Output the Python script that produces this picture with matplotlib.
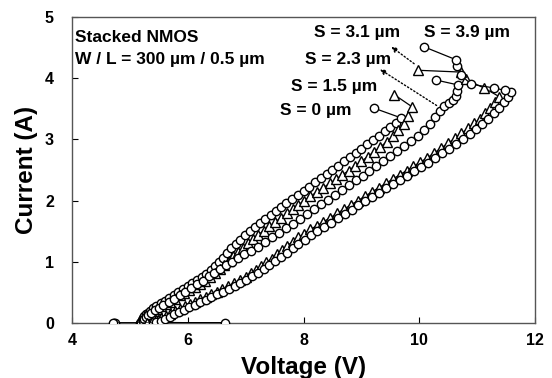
import matplotlib
matplotlib.use("Agg")
import matplotlib.pyplot as plt

plt.rcParams['font.family'] = ['Liberation Sans', 'DejaVu Sans']
plt.rcParams['font.weight'] = 'bold'

# S = 0 um (circles)
v_s0 = [4.72, 5.18, 5.19, 5.21, 5.23, 5.25, 5.28, 5.31, 5.35, 5.40, 5.46, 5.53, 5.60, 5.68, 5.76,
        5.84, 5.92, 6.00, 6.08, 6.16, 6.24, 6.32, 6.40, 6.47, 6.54, 6.61, 6.68, 6.75, 6.83, 6.91,
        6.99, 7.07, 7.16, 7.25, 7.34, 7.43, 7.52, 7.61, 7.70, 7.80, 7.90, 8.00, 8.10, 8.20, 8.30,
        8.40, 8.50, 8.60, 8.70, 8.80, 8.90, 9.00, 9.10, 9.20, 9.30, 9.40, 9.50, 9.60, 9.69, 9.22]
i_s0 = [0, 0, 0.02, 0.05, 0.08, 0.11, 0.14, 0.17, 0.20, 0.24, 0.28, 0.32, 0.36, 0.41, 0.46,
        0.51, 0.56, 0.60, 0.65, 0.70, 0.75, 0.80, 0.86, 0.93, 1.00, 1.07, 1.15, 1.22, 1.29, 1.36,
        1.43, 1.50, 1.57, 1.63, 1.70, 1.76, 1.83, 1.89, 1.96, 2.02, 2.09, 2.16, 2.23, 2.30, 2.37,
        2.43, 2.50, 2.57, 2.64, 2.71, 2.78, 2.85, 2.92, 2.99, 3.06, 3.13, 3.20, 3.27, 3.35, 3.51]

# S = 1.5 um (triangles)
v_s15 = [5.22, 5.24, 5.26, 5.29, 5.32, 5.36, 5.41, 5.47, 5.54, 5.62, 5.70, 5.78, 5.86, 5.94, 6.03,
         6.12, 6.21, 6.30, 6.39, 6.47, 6.55, 6.63, 6.71, 6.79, 6.87, 6.95, 7.04, 7.13, 7.22, 7.31,
         7.41, 7.51, 7.61, 7.71, 7.81, 7.91, 8.01, 8.12, 8.23, 8.34, 8.45, 8.56, 8.67, 8.78, 8.89,
         9.00, 9.11, 9.22, 9.33, 9.44, 9.54, 9.64, 9.73, 9.81, 9.88, 9.57]
i_s15 = [0, 0.03, 0.06, 0.09, 0.12, 0.15, 0.19, 0.23, 0.27, 0.31, 0.35, 0.40, 0.45, 0.49, 0.54,
         0.59, 0.64, 0.69, 0.75, 0.81, 0.88, 0.95, 1.02, 1.09, 1.16, 1.23, 1.30, 1.37, 1.44, 1.51,
         1.58, 1.65, 1.72, 1.79, 1.86, 1.93, 2.00, 2.07, 2.14, 2.21, 2.28, 2.35, 2.42, 2.49, 2.57,
         2.64, 2.72, 2.80, 2.88, 2.96, 3.05, 3.15, 3.25, 3.38, 3.53, 3.73]

# S = 2.3 um (circles)
v_s23 = [4.75, 5.20, 5.22, 5.25, 5.28, 5.32, 5.37, 5.43, 5.50, 5.58, 5.67, 5.76, 5.86, 5.96, 6.06,
         6.16, 6.26, 6.36, 6.46, 6.56, 6.66, 6.76, 6.87, 6.98, 7.10, 7.22, 7.34, 7.46, 7.58, 7.70,
         7.82, 7.94, 8.06, 8.18, 8.30, 8.42, 8.54, 8.66, 8.78, 8.90, 9.02, 9.14, 9.26, 9.38, 9.50,
         9.62, 9.74, 9.86, 9.97, 10.08, 10.18, 10.27, 10.35, 10.43, 10.51, 10.58, 10.63, 10.66,
         10.67, 10.29]
i_s23 = [0, 0, 0.03, 0.06, 0.09, 0.13, 0.17, 0.21, 0.25, 0.30, 0.35, 0.40, 0.45, 0.51, 0.57,
         0.63, 0.69, 0.76, 0.82, 0.88, 0.94, 1.00, 1.06, 1.12, 1.18, 1.25, 1.32, 1.40, 1.47, 1.55,
         1.62, 1.70, 1.78, 1.86, 1.94, 2.01, 2.09, 2.17, 2.25, 2.33, 2.41, 2.49, 2.57, 2.65, 2.73,
         2.81, 2.89, 2.97, 3.06, 3.15, 3.25, 3.36, 3.46, 3.54, 3.60, 3.65, 3.71, 3.79,
         3.89, 3.97]

# S = 3.1 um (triangles)
v_s31 = [5.30, 5.38, 5.46, 5.54, 5.62, 5.70, 5.78, 5.86, 5.95, 6.04, 6.13, 6.22, 6.31, 6.40, 6.50,
         6.60, 6.70, 6.80, 6.90, 7.00, 7.09, 7.18, 7.27, 7.36, 7.45, 7.54, 7.63, 7.72, 7.81, 7.91,
         8.01, 8.12, 8.23, 8.34, 8.46, 8.58, 8.70, 8.82, 8.94, 9.06, 9.18, 9.30, 9.42, 9.54, 9.66,
         9.78, 9.90, 10.02, 10.14, 10.26, 10.38, 10.50, 10.62, 10.73, 10.84, 10.95, 11.05, 11.14,
         11.23, 11.31, 11.38, 11.12, 10.80, 10.72, 9.97]
i_s31 = [0, 0.02, 0.05, 0.08, 0.11, 0.15, 0.19, 0.23, 0.27, 0.31, 0.35, 0.39, 0.43, 0.47, 0.51,
         0.55, 0.60, 0.65, 0.70, 0.75, 0.81, 0.87, 0.93, 0.99, 1.05, 1.12, 1.19, 1.26, 1.33, 1.40,
         1.46, 1.53, 1.59, 1.65, 1.72, 1.79, 1.86, 1.93, 2.00, 2.07, 2.14, 2.21, 2.28, 2.35, 2.42,
         2.49, 2.56, 2.63, 2.70, 2.78, 2.86, 2.94, 3.02, 3.10, 3.18, 3.26, 3.34, 3.43,
         3.52, 3.61, 3.70, 3.84, 3.98, 4.10, 4.13]

# S = 3.9 um (circles)
v_s39 = [4.70, 6.65, 5.45, 5.53, 5.61, 5.69, 5.77, 5.85, 5.94, 6.03, 6.12, 6.21, 6.31, 6.41, 6.51,
         6.61, 6.71, 6.81, 6.91, 7.01, 7.11, 7.21, 7.31, 7.41, 7.51, 7.61, 7.71, 7.81, 7.91, 8.02,
         8.13, 8.24, 8.35, 8.47, 8.59, 8.71, 8.83, 8.95, 9.07, 9.19, 9.31, 9.43, 9.55, 9.67, 9.79,
         9.91, 10.03, 10.15, 10.27, 10.39, 10.51, 10.63, 10.75, 10.87, 10.98, 11.09, 11.19, 11.29,
         11.38, 11.46, 11.53, 11.59, 11.48, 11.30, 10.90, 10.72, 10.66, 10.64, 10.09]
i_s39 = [0, 0, 0.01, 0.04, 0.07, 0.10, 0.14, 0.18, 0.22, 0.26, 0.30, 0.34, 0.38, 0.42, 0.47,
         0.51, 0.56, 0.61, 0.66, 0.71, 0.76, 0.82, 0.88, 0.95, 1.01, 1.08, 1.15, 1.22, 1.29, 1.36,
         1.43, 1.50, 1.57, 1.64, 1.71, 1.78, 1.85, 1.92, 1.99, 2.06, 2.13, 2.20, 2.27, 2.34, 2.41,
         2.48, 2.55, 2.62, 2.69, 2.77, 2.85, 2.93, 3.01, 3.09, 3.17, 3.25, 3.34, 3.43,
         3.52, 3.61, 3.69, 3.77, 3.80, 3.84, 3.90, 4.05, 4.20, 4.30, 4.51]

series = [
    (v_s0, i_s0, 'o'),
    (v_s15, i_s15, '^'),
    (v_s23, i_s23, 'o'),
    (v_s31, i_s31, '^'),
    (v_s39, i_s39, 'o'),
]

labels = ["S = 0 µm", "S = 1.5 µm", "S = 2.3 µm", "S = 3.1 µm", "S = 3.9 µm"]
label_x = [7.59, 7.79, 8.02, 8.19, 10.09]
label_y = [3.48, 3.86, 4.30, 4.74, 4.74]

x_ticks = [4, 6, 8, 10, 12]
y_ticks = [0, 1, 2, 3, 4, 5]

fig = plt.figure(figsize=(5.52, 3.78), dpi=100)
ax = fig.add_axes([72/552, 1-323/378, (535-72)/552, (323-17)/378])

for v, i, m in series:
    ax.plot(v, i, color='black', lw=0.9, marker=m, ms=6 if m == 'o' else 6.5,
            mfc='white', mec='black', mew=1.0, zorder=3)

for t, x, y in zip(labels, label_x, label_y):
    ax.text(x, y, t, fontsize=12.5, fontweight='bold', va='center', ha='left')

ax.text(4.06, 4.66, "Stacked NMOS", fontsize=12.5, fontweight='bold', va='center', ha='left')
ax.text(4.06, 4.30, "W / L = 300 µm / 0.5 µm", fontsize=12.5, fontweight='bold', va='center', ha='left')

# dotted arrows
ax.annotate("", xy=(9.48, 4.54), xytext=(9.95, 4.21),
            arrowprops=dict(arrowstyle='-|>', ls=':', lw=1.0, color='black', mutation_scale=8))
ax.annotate("", xy=(9.28, 4.17), xytext=(10.34, 3.53),
            arrowprops=dict(arrowstyle='-|>', ls=':', lw=1.0, color='black', mutation_scale=8))

ax.set_xlim(4, 12)
ax.set_ylim(0, 5)
ax.set_xticks(x_ticks)
ax.set_yticks(y_ticks)
ax.tick_params(axis='both', direction='in', length=4, width=0.8, labelsize=11.5)
ax.tick_params(axis='x', pad=7)
ax.tick_params(axis='y', pad=13)
for lab in ax.get_xticklabels() + ax.get_yticklabels():
    lab.set_fontweight('bold')
for s in ax.spines.values():
    s.set_color('#555555')
    s.set_linewidth(1.0)

ax.set_xlabel("Voltage (V)", fontsize=17.5, fontweight='bold', labelpad=6)
ax.set_ylabel("Current (A)", fontsize=17.5, fontweight='bold', labelpad=5)

fig.savefig("out.png", dpi=100)
